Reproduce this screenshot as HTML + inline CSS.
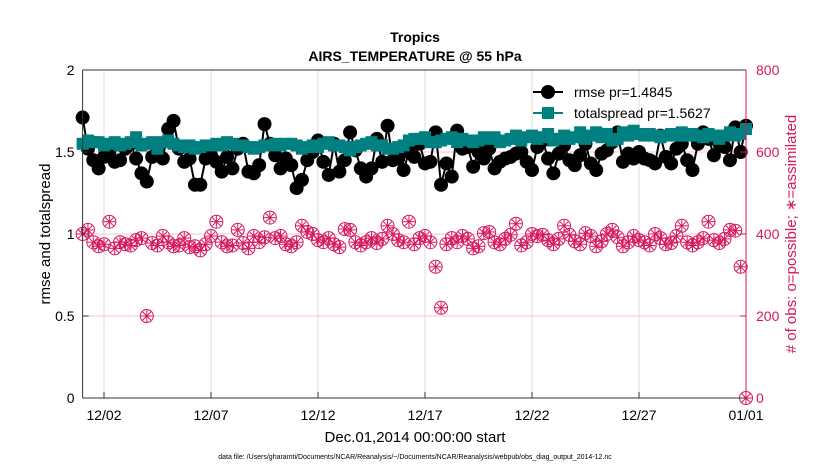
<!DOCTYPE html>
<html><head><meta charset="utf-8"><style>
body{margin:0;background:#fff;font-family:"Liberation Sans",sans-serif}
svg text{font-family:"Liberation Sans",sans-serif}
</style></head><body>
<svg id="chart" width="830" height="470" viewBox="0 0 830 470" xmlns="http://www.w3.org/2000/svg">
<rect width="830" height="470" fill="#fff"/>
<g id="grid"></g>
<g id="obs"></g>
<g id="rm"></g>
<g id="sp"></g>
<g id="axes"></g>
<text x="415" y="42" text-anchor="middle" font-size="14" font-weight="bold">Tropics</text>
<text x="415" y="61" text-anchor="middle" font-size="14" font-weight="bold">AIRS_TEMPERATURE @ 55 hPa</text>
<text x="415" y="442" text-anchor="middle" font-size="15">Dec.01,2014 00:00:00 start</text>
<text x="415" y="459" text-anchor="middle" font-size="7">data file: /Users/gharamti/Documents/NCAR/Reanalysis/~/Documents/NCAR/Reanalysis/webpub/obs_diag_output_2014-12.nc</text>
<text transform="translate(50,234) rotate(-90)" text-anchor="middle" font-size="15">rmse and totalspread</text>
<text transform="translate(796,234) rotate(-90)" text-anchor="middle" font-size="15" fill="#d6175e"># of obs: o=possible; ∗=assimilated</text>
<g id="legend"></g>
</svg>
<script>
const xTickLabels=["12/02","12/07","12/12","12/17","12/22","12/27","01/01"];
const xTickDays=[1,6,11,16,21,26,31];
const yLeftTicks=[0,0.5,1,1.5,2];
const yRightTicks=[0,200,400,600,800];
const rmse=[1.71,1.52,1.45,1.40,1.47,1.50,1.44,1.45,1.52,1.55,1.46,1.37,1.32,1.47,1.50,1.46,1.64,1.69,1.52,1.44,1.46,1.30,1.30,1.46,1.48,1.44,1.38,1.47,1.40,1.52,1.55,1.38,1.37,1.42,1.67,1.55,1.48,1.40,1.46,1.42,1.28,1.33,1.45,1.50,1.57,1.44,1.36,1.55,1.38,1.45,1.62,1.51,1.40,1.35,1.40,1.58,1.44,1.66,1.45,1.46,1.39,1.50,1.47,1.55,1.43,1.44,1.62,1.30,1.43,1.35,1.63,1.52,1.53,1.41,1.50,1.46,1.52,1.40,1.44,1.46,1.47,1.49,1.50,1.44,1.39,1.53,1.57,1.46,1.37,1.49,1.54,1.45,1.42,1.48,1.55,1.43,1.39,1.49,1.51,1.56,1.62,1.44,1.49,1.46,1.50,1.46,1.45,1.43,1.60,1.47,1.43,1.52,1.55,1.45,1.39,1.55,1.62,1.58,1.48,1.55,1.53,1.45,1.65,1.50,1.66];
const spread=[1.55,1.57,1.56,1.56,1.54,1.55,1.56,1.54,1.55,1.56,1.59,1.54,1.55,1.56,1.52,1.56,1.57,1.55,1.54,1.53,1.54,1.52,1.53,1.54,1.54,1.55,1.54,1.56,1.55,1.54,1.54,1.53,1.52,1.53,1.54,1.54,1.55,1.54,1.55,1.55,1.54,1.52,1.53,1.54,1.53,1.55,1.56,1.54,1.54,1.53,1.51,1.53,1.54,1.55,1.56,1.54,1.54,1.52,1.52,1.53,1.54,1.57,1.58,1.58,1.59,1.56,1.56,1.57,1.58,1.59,1.56,1.58,1.57,1.56,1.57,1.59,1.58,1.59,1.56,1.57,1.58,1.60,1.57,1.59,1.60,1.58,1.59,1.61,1.57,1.58,1.60,1.58,1.59,1.62,1.58,1.60,1.62,1.59,1.61,1.57,1.58,1.62,1.60,1.63,1.61,1.60,1.61,1.60,1.59,1.60,1.61,1.60,1.62,1.60,1.61,1.60,1.59,1.61,1.60,1.58,1.60,1.62,1.60,1.61,1.64];
const obsCount=[400,410,380,370,375,430,365,380,375,372,385,390,200,378,372,395,380,370,372,390,368,370,360,375,395,430,380,370,372,410,378,365,395,380,392,440,390,395,375,370,380,420,405,400,385,380,390,375,368,412,410,380,372,380,390,378,388,420,400,385,380,430,375,390,395,380,320,220,375,390,380,395,388,365,370,402,405,380,375,388,398,425,372,380,400,395,398,385,375,388,420,398,382,375,402,395,370,382,400,410,392,370,380,395,385,380,372,400,390,375,378,395,420,380,372,380,390,430,385,378,388,410,408,320,0];

const ns="http://www.w3.org/2000/svg";
const X0=82.6,X1=746,Y0=398,Y1=70;
const xs=d=>X0+(d/31)*(X1-X0);
const yl=v=>Y0-(v/2)*(Y0-Y1);
const yr=v=>Y0-(v/800)*(Y0-Y1);
function mk(tag,attrs,parent){const e=document.createElementNS(ns,tag);for(const k in attrs)e.setAttribute(k,attrs[k]);parent.appendChild(e);return e;}
const grid=document.getElementById('grid'),axes=document.getElementById('axes');
xTickDays.forEach((d,i)=>{
  const g=mk('line',{x1:xs(d),x2:xs(d),y1:Y1,y2:Y0,stroke:'#dcdcdc','stroke-width':1},grid);
  
  
  const t=mk('line',{x1:xs(d),x2:xs(d),y1:Y0,y2:Y0-6,stroke:'#333'},axes);
  
  
  const l=mk('text',{x:xs(d),y:Y0+22,'text-anchor':'middle','font-size':14},axes);
  l.textContent=xTickLabels[i];
  
  
});
yRightTicks.forEach(v=>{
  if(v>0&&v<800){const g=mk('line',{x1:X0,x2:X1,y1:yr(v),y2:yr(v),stroke:'#f7c6d6','stroke-width':1},grid);
  
  }
  const t=mk('text',{x:X1+10,y:yr(v)+5,'font-size':14,fill:'#d6175e'},axes);
  t.textContent=v;
  
  
  mk('line',{x1:X1,x2:X1-6,y1:yr(v),y2:yr(v),stroke:'#d6175e'},axes);
});
yLeftTicks.forEach(v=>{
  const t=mk('text',{x:X0-8,y:yl(v)+5,'text-anchor':'end','font-size':14},axes);
  t.textContent=v;
  
  
  mk('line',{x1:X0,x2:X0+6,y1:yl(v),y2:yl(v),stroke:'#333'},axes);
});
mk('line',{x1:X0,x2:X1,y1:Y1,y2:Y1,stroke:'#333'},axes);
mk('line',{x1:X0,x2:X1,y1:Y0,y2:Y0,stroke:'#333'},axes);
mk('line',{x1:X0,x2:X0,y1:Y1,y2:Y0,stroke:'#333'},axes);
mk('line',{x1:X1,x2:X1,y1:Y1,y2:Y0,stroke:'#d6175e'},axes);
const og=document.getElementById('obs');
function obsMarker(cx,cy,p){
  const g=mk('g',{stroke:'#d6175e','stroke-width':1,fill:'none'},p);
  mk('circle',{cx:cx,cy:cy,r:6.5},g);
  for(let a=0;a<4;a++){const an=a*Math.PI/4;mk('line',{x1:cx-6*Math.cos(an),y1:cy-6*Math.sin(an),x2:cx+6*Math.cos(an),y2:cy+6*Math.sin(an)},g);}
  return g;
}
obsCount.forEach((v,i)=>{
  const g=obsMarker(xs(i*0.25),yr(v),og);
  
  
});
const rg=document.getElementById('rm');
mk('polyline',{points:rmse.map((v,i)=>xs(i*0.25)+','+yl(v)).join(' '),fill:'none',stroke:'#000','stroke-width':2},rg);
rmse.forEach((v,i)=>{
  const c=mk('circle',{cx:xs(i*0.25),cy:yl(v),r:7,fill:'#000'},rg);
  
  
});
const sg=document.getElementById('sp');
mk('polyline',{points:spread.map((v,i)=>xs(i*0.25)+','+yl(v)).join(' '),fill:'none',stroke:'#008080','stroke-width':2},sg);
spread.forEach((v,i)=>{
  const r=mk('rect',{x:xs(i*0.25)-6,y:yl(v)-6,width:12,height:12,fill:'#008080'},sg);
  
  
});
const lg=document.getElementById('legend');
mk('line',{x1:533,x2:563,y1:92,y2:92,stroke:'#000','stroke-width':2},lg);
mk('circle',{cx:548,cy:92,r:7,fill:'#000'},lg);
const t1=mk('text',{x:574,y:97,'font-size':14},lg);t1.textContent='rmse pr=1.4845';


mk('line',{x1:533,x2:563,y1:113,y2:113,stroke:'#008080','stroke-width':2},lg);
mk('rect',{x:542,y:107,width:12,height:12,fill:'#008080'},lg);
const t2=mk('text',{x:574,y:118,'font-size':14},lg);t2.textContent='totalspread pr=1.5627';


</script>
</body></html>
